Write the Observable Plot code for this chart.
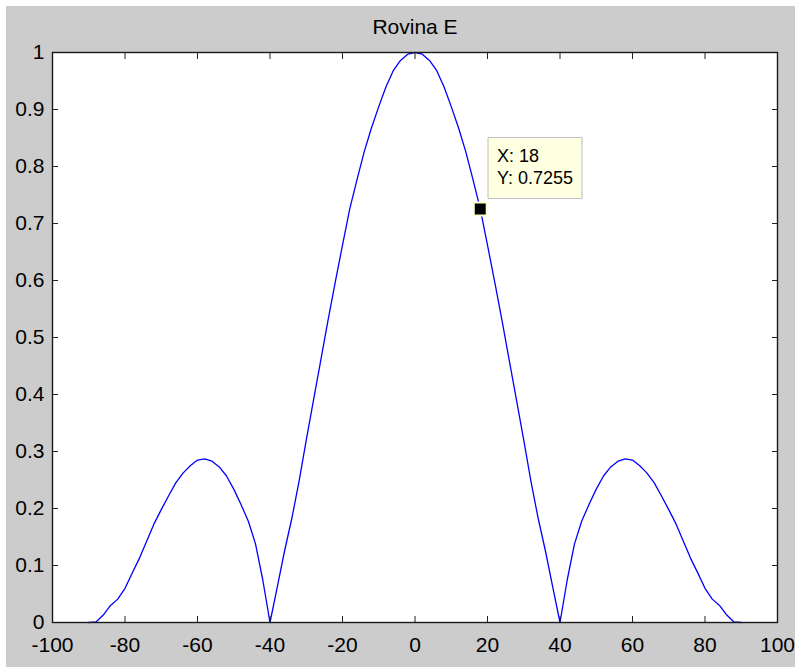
<!DOCTYPE html>
<html>
<head>
<meta charset="utf-8">
<script src="https://cdn.jsdelivr.net/npm/d3@7"></script>
<script src="https://cdn.jsdelivr.net/npm/@observablehq/plot@0.6"></script>
<style>
  html, body { margin: 0; padding: 0; background: #ffffff; overflow: hidden; }
  #chart { position: absolute; left: 6px; top: 6px; }
</style>
</head>
<body>
<div id="chart"></div>
<script>
const titleText = ["Rovina E"];
const angles = [
  -90, -88, -86, -84, -82, -80, -78, -76, -74, -72, -70, -68, -66, -64, -62, -60,
  -58, -56, -54, -52, -50, -48, -46, -44, -42, -40, -38, -36, -34, -32, -30, -28,
  -26, -24, -22, -20, -18, -16, -14, -12, -10, -8, -6, -4, -2, 0,
  2, 4, 6, 8, 10, 12, 14, 16, 18, 20, 22, 24, 26, 28, 30, 32, 34, 36, 38, 40,
  42, 44, 46, 48, 50, 52, 54, 56, 58, 60, 62, 64, 66, 68, 70, 72, 74, 76, 78, 80,
  82, 84, 86, 88, 90
];
const values = [
  0.000, 0.001, 0.013, 0.030, 0.041, 0.060, 0.087, 0.113, 0.143, 0.173, 0.198, 0.222, 0.245, 0.262, 0.275, 0.285,
  0.287, 0.283, 0.273, 0.257, 0.234, 0.207, 0.178, 0.138, 0.075, 0.000, 0.062, 0.125, 0.182, 0.247, 0.320, 0.390,
  0.460, 0.530, 0.597, 0.662, 0.7255, 0.777, 0.826, 0.868, 0.905, 0.940, 0.968, 0.986, 0.997, 1.000,
  0.997, 0.986, 0.968, 0.940, 0.905, 0.868, 0.826, 0.777, 0.7255, 0.662, 0.597, 0.530, 0.460, 0.390, 0.320, 0.247, 0.182, 0.125, 0.062, 0.000,
  0.075, 0.138, 0.178, 0.207, 0.234, 0.257, 0.273, 0.283, 0.287, 0.285, 0.275, 0.262, 0.245, 0.222, 0.198, 0.173, 0.143, 0.113, 0.087, 0.060,
  0.041, 0.030, 0.013, 0.001, 0.000
];
const xTicks = [-100, -80, -60, -40, -20, 0, 20, 40, 60, 80, 100];
const yTicks = [0, 0.1, 0.2, 0.3, 0.4, 0.5, 0.6, 0.7, 0.8, 0.9, 1];
const tipX = [18];
const tipY = [0.7255];

const data = angles.map((a, i) => ({a, v: values[i]}));
const tipData = tipX.map((x, i) => ({x, y: tipY[i]}));
const fmt = d => String(+d.toFixed(4));

const chart = Plot.plot({
  width: 789,
  height: 661,
  marginTop: 46,
  marginLeft: 46,
  marginRight: 18,
  marginBottom: 45,
  style: {background: "#cccccc", fontFamily: "'Liberation Sans', Arial, sans-serif", color: "#000"},
  x: {domain: [-100, 100], ticks: xTicks},
  y: {domain: [0, 1], ticks: yTicks},
  marks: [
    Plot.frame({fill: "#ffffff", stroke: "none"}),
    Plot.line(data, {x: "a", y: "v", stroke: "#0000ff", strokeWidth: 1.3}),
    Plot.axisX(xTicks, {anchor: "bottom", text: null, tickSize: -6, stroke: "#222"}),
    Plot.axisX(xTicks, {anchor: "top", text: null, tickSize: -6, stroke: "#222"}),
    Plot.axisY(yTicks, {anchor: "left", text: null, tickSize: -6, stroke: "#222"}),
    Plot.axisY(yTicks, {anchor: "right", text: null, tickSize: -6, stroke: "#222"}),
    Plot.axisX(xTicks, {anchor: "bottom", tickSize: 0, tickPadding: 12, dy: 3, tickFormat: fmt, fontSize: 21, label: null}),
    Plot.axisY(yTicks, {anchor: "left", tickSize: 0, tickPadding: 8, tickFormat: fmt, fontSize: 21, label: null}),
    Plot.frame({stroke: "#1a1a1a", strokeWidth: 1.4}),
    Plot.text(titleText, {text: d => d, frameAnchor: "top", dy: -25, lineAnchor: "middle", fontSize: 21, fill: "#000"}),
    Plot.dot(tipData, {x: "x", y: "y", symbol: "square", r: 7.3, fill: "#000", stroke: "#ffffd0", strokeWidth: 2}),
    Plot.tip(tipData, {
      x: "x", y: "y",
      title: d => `X: ${d.x}\nY: ${d.y}`,
      anchor: "bottom-left",
      pointerSize: 0,
      pathFilter: "none",
      dx: 7.5, dy: -10,
      fill: "#ffffe1",
      stroke: "#bdbdbd",
      fontSize: 18,
      lineHeight: 1.25,
      textPadding: 9
    })
  ]
});
document.getElementById("chart").appendChild(chart);
</script>
</body>
</html>
